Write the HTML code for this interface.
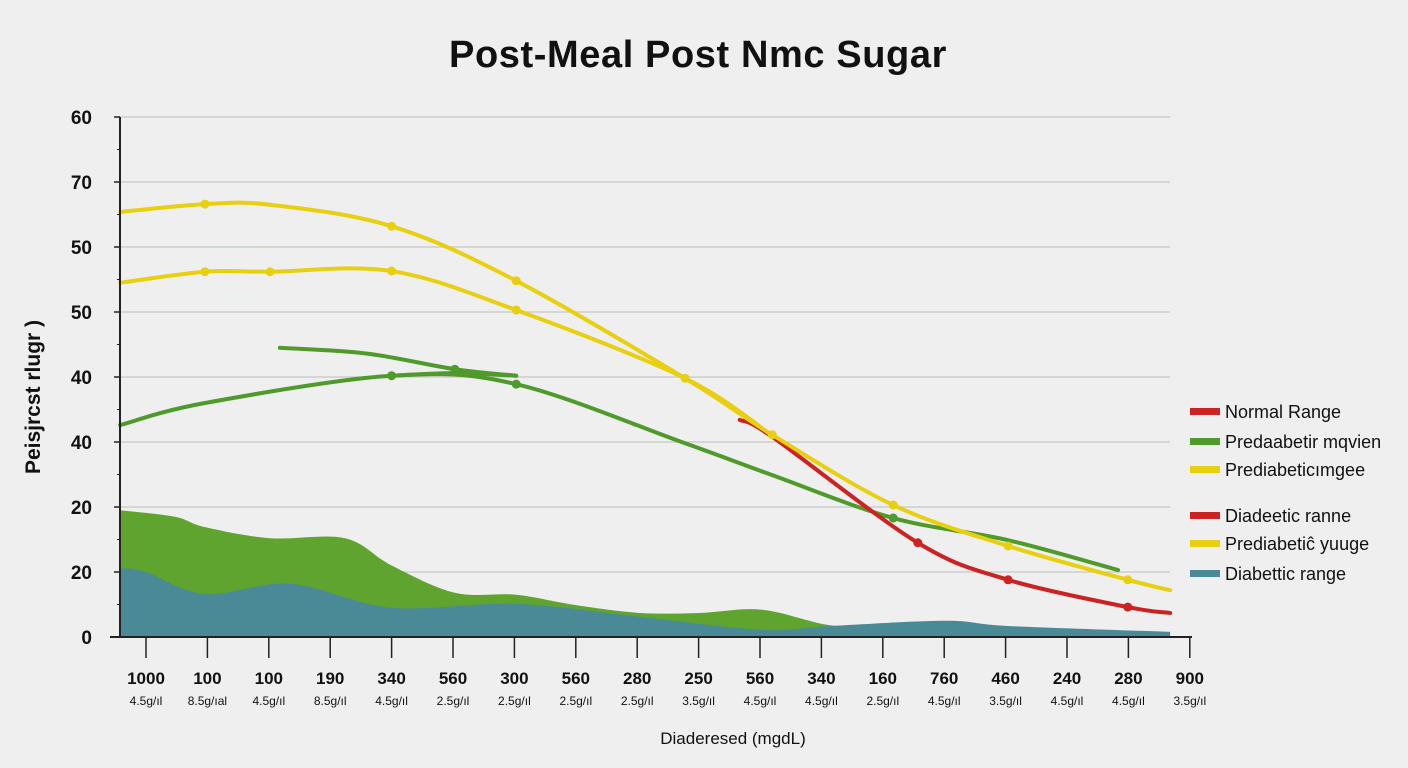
<!DOCTYPE html>
<html><head><meta charset="utf-8"><style>
body{margin:0;background:#efefef;}
svg{display:block;font-family:"Liberation Sans",sans-serif;}
</style></head><body>
<svg id="c" width="1408" height="768">
<rect width="1408" height="768" fill="#efefef"/>
<text x="698" y="67" text-anchor="middle" font-size="38" font-weight="bold" letter-spacing="0.6" fill="#111">Post-Meal Post  Nmc Sugar</text>
<text transform="translate(40,397) rotate(-90)" text-anchor="middle" font-size="21" font-weight="bold" fill="#111">Peisjrcst rlugr )</text>
<text x="733" y="744" text-anchor="middle" font-size="17" fill="#111">Diaderesed (mgdL)</text>
<g id="grid"></g><g id="areas"></g><g id="lines"></g><g id="axes"></g><g id="legend"></g>
</svg>
<script>
const yTickLabels=["0","20","20","40","40","50","50","70","60"];
const xTickLabels=["1000","100","100","190","340","560","300","560","280","250","560","340","160","760","460","240","280","900"];
const xSubLabels=["4.5g/ıl","8.5g/ıal","4.5g/ıl","8.5g/ıl","4.5g/ıl","2.5g/ıl","2.5g/ıl","2.5g/ıl","2.5g/ıl","3.5g/ıl","4.5g/ıl","4.5g/ıl","2.5g/ıl","4.5g/ıl","3.5g/ıl","4.5g/ıl","4.5g/ıl","3.5g/ıl"];
const yellowUpX=[-0.42,0.96,2.02,4.0,6.03,8.78,10.2,12.17,14.04,15.99,16.68];
const yellowUpY=[65.4,66.6,66.5,63.2,54.8,39.8,31.1,20.3,14,8.8,7.2];
const yellowLoX=[-0.42,0.96,2.02,4.0,6.03,8.78,10.2];
const yellowLoY=[54.5,56.2,56.2,56.3,50.3,39.8,31.0];
const redX=[9.67,10.2,12.57,14.04,15.99,16.68];
const redY=[33.4,30.8,14.5,8.8,4.6,3.7];
const greenUpX=[2.18,3.6,5.03,6.03];
const greenUpY=[44.5,43.6,41.2,40.2];
const greenMidX=[4.0,5.03,6.03];
const greenMidY=[40.2,40.6,40.2];
const greenLoX=[-0.42,0.96,4.0,6.03,8.78,10.2,12.17,14.04,15.83];
const greenLoY=[32.6,36,40.2,38.9,29.8,24.9,18.3,14.9,10.3];
const greenAreaX=[-0.42,0.47,0.96,2.02,3.24,4.0,5.03,6.03,7.0,8.05,9.02,10.03,11.14,12.1,13.1];
const greenAreaY=[19.5,18.5,16.9,15.2,15.2,11,6.8,6.5,4.9,3.7,3.7,4.2,1.8,1.4,1.7];
const tealAreaX=[-0.42,0,0.96,2.35,4.0,6.03,8.05,10.03,11.14,13.03,14.04,16.68];
const tealAreaY=[10.6,10,6.6,8.2,4.5,5.1,3.1,1.1,1.7,2.5,1.7,0.8];
const legendLabels=["Normal Range","Predaabetir mqvien","Prediabeticımgee","Diadeetic ranne","Prediabetiĉ yuuge","Diabettic range"];
const legendColors=["#cc2222","#4e9a2a","#e8cf10","#cc2222","#e8cf10","#4a8a96"];

const NS="http://www.w3.org/2000/svg";
const X=i=>146+61.4*i, Y=v=>637-6.5*v;
function mk(tag,attrs,parent){const e=document.createElementNS(NS,tag);for(const k in attrs)e.setAttribute(k,attrs[k]);parent.appendChild(e);return e;}
function path(xs,ys){const p=xs.map((x,i)=>[X(x),Y(ys[i])]);let d=`M${p[0][0]},${p[0][1]}`;
for(let i=0;i<p.length-1;i++){const p0=p[i-1]||p[i],p1=p[i],p2=p[i+1],p3=p[i+2]||p2;
d+=` C${p1[0]+(p2[0]-p0[0])/6},${p1[1]+(p2[1]-p0[1])/6} ${p2[0]-(p3[0]-p1[0])/6},${p2[1]-(p3[1]-p1[1])/6} ${p2[0]},${p2[1]}`;}return d;}
const grid=document.getElementById('grid'),areas=document.getElementById('areas'),lines=document.getElementById('lines'),axes=document.getElementById('axes'),leg=document.getElementById('legend');
yTickLabels.forEach((t,i)=>{const y=637-65*i;
if(i>0){const g=mk('line',{x1:120,x2:1170,y1:y,y2:y,stroke:'#c8c8c8','stroke-width':1.2},grid);

}
const tx=mk('text',{x:92,y:y+7,'text-anchor':'end','font-size':19,'font-weight':'bold',fill:'#111'},axes);tx.textContent=t;


mk('line',{x1:114,x2:120,y1:y,y2:y,stroke:'#222','stroke-width':1.5},axes);
if(i<8)mk('line',{x1:117,x2:120,y1:y-32.5,y2:y-32.5,stroke:'#222','stroke-width':1},axes);});
function area(xs,ys,color,name){const d=path(xs,ys)+` L${X(xs[xs.length-1])},${Y(0)} L${X(xs[0])},${Y(0)} Z`;
const a=mk('path',{d,fill:color},areas);

}
area(greenAreaX,greenAreaY,'#5ea42e','prediabetic-area');
area(tealAreaX,tealAreaY,'#4a8a96','diabetic-area');
function line(xs,ys,color,name,marks){const l=mk('path',{d:path(xs,ys),fill:'none',stroke:color,'stroke-width':4,'stroke-linecap':'round'},lines);


marks.forEach(i=>{const c=mk('circle',{cx:X(xs[i]),cy:Y(ys[i]),r:4.5,fill:color},lines);

});}
line(greenUpX,greenUpY,'#4e9a2a','green-upper-line',[2]);
line(greenMidX,greenMidY,'#4e9a2a','green-mid-line',[0]);
line(greenLoX,greenLoY,'#4e9a2a','green-lower-line',[3,6]);
line(redX,redY,'#cc2222','red-line',[2,3,4]);
line(yellowLoX,yellowLoY,'#e8cf10','yellow-lower-line',[1,2,3,4]);
line(yellowUpX,yellowUpY,'#e8cf10','yellow-upper-line',[1,3,4,5,6,7,8,9]);
mk('line',{x1:120,x2:120,y1:117,y2:637,stroke:'#222','stroke-width':2},axes);
mk('line',{x1:110,x2:1192,y1:637,y2:637,stroke:'#222','stroke-width':2},axes);
xTickLabels.forEach((t,i)=>{const x=X(i);
mk('line',{x1:x,x2:x,y1:637,y2:658,stroke:'#222','stroke-width':1.5},axes);
const a=mk('text',{x,y:684,'text-anchor':'middle','font-size':17,'font-weight':'bold',fill:'#111'},axes);a.textContent=t;


const b=mk('text',{x,y:705,'text-anchor':'middle','font-size':12,fill:'#111'},axes);b.textContent=xSubLabels[i];

});
const legY=[412,442,470,516,544,574];
legendLabels.forEach((t,i)=>{const g=mk('g',{},leg);


mk('rect',{x:1190,y:legY[i]-4,width:30,height:7,fill:legendColors[i]},g);
const tx=mk('text',{x:1225,y:legY[i]+6,'font-size':18,fill:'#111'},g);tx.textContent=t;});
</script>
</body></html>
